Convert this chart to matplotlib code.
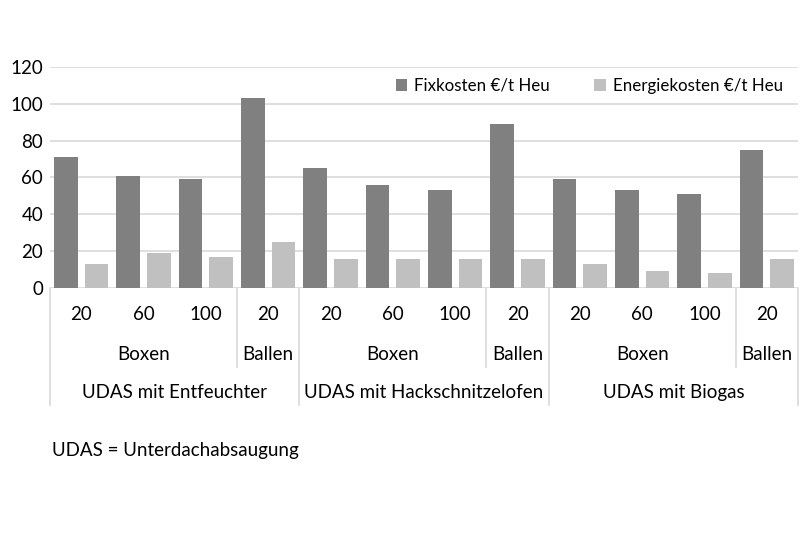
import numpy as np
import matplotlib
matplotlib.use("Agg")
import matplotlib.pyplot as plt
import matplotlib.transforms as mtransforms

plt.rcParams['font.family'] = ['Lato', 'DejaVu Sans']

# data
sizes = ["20", "60", "100", "20", "20", "60", "100", "20", "20", "60", "100", "20"]
types = ["Boxen", "Ballen", "Boxen", "Ballen", "Boxen", "Ballen"]
type_spans = [(0, 2), (3, 3), (4, 6), (7, 7), (8, 10), (11, 11)]
systems = ["UDAS mit Entfeuchter", "UDAS mit Hackschnitzelofen", "UDAS mit Biogas"]
system_spans = [(0, 3), (4, 7), (8, 11)]
fixkosten = [71, 61, 59, 103, 65, 56, 53, 89, 59, 53, 51, 75]
energiekosten = [13, 19, 17, 25, 16, 16, 16, 16, 13, 9, 8, 16]
yticks = [0, 20, 40, 60, 80, 100, 120]

dark = "#808080"
light = "#c0c0c0"
grid = "#d9d9d9"
fs = 13.5

fig = plt.figure(figsize=(8, 5.33), dpi=100)
ax = fig.add_axes([0.0625, 0.4597, 0.935, 0.4146])

x = np.arange(len(sizes))
w = 0.38
ax.bar(x - 0.245, fixkosten, w, color=dark, label="Fixkosten €/t Heu", zorder=3)
ax.bar(x + 0.245, energiekosten, w, color=light, label="Energiekosten €/t Heu", zorder=3)

ax.set_xlim(-0.5, len(sizes) - 0.5)
ax.set_ylim(0, 120)
ax.set_yticks(yticks)
ax.set_yticklabels([str(t) for t in yticks], fontsize=fs)
ax.set_xticks([])
ax.tick_params(axis='y', length=0, pad=5)
ax.grid(axis='y', color=grid, linewidth=1.2, zorder=0)
for s in ax.spines.values():
    s.set_visible(False)

# multi level category axis
trans = mtransforms.blended_transform_factory(ax.transData, ax.transAxes)
for i, lab in enumerate(sizes):
    ax.text(i, -0.118, lab, transform=trans, ha='center', va='center', fontsize=fs)
for lab, (a, b) in zip(types, type_spans):
    ax.text((a + b) / 2, -0.299, lab, transform=trans, ha='center', va='center', fontsize=fs)
for lab, (a, b) in zip(systems, system_spans):
    ax.text((a + b) / 2, -0.475, lab, transform=trans, ha='center', va='center', fontsize=fs)

for xb in [-0.5, 3.5, 7.5, 11.5]:
    ax.plot([xb, xb], [0, -0.53], transform=trans, color=grid, lw=1.2, clip_on=False)
for xb in [2.5, 6.5, 10.5]:
    ax.plot([xb, xb], [0, -0.357], transform=trans, color=grid, lw=1.2, clip_on=False)

leg = ax.legend(loc='upper right', bbox_to_anchor=(1.0, 1.02), ncol=2, frameon=False,
                fontsize=12.2, handlelength=0.7, handleheight=0.7, handletextpad=0.4,
                columnspacing=2.6)

fig.text(0.065, 0.155, "UDAS = Unterdachabsaugung", fontsize=fs, va='center', ha='left')

fig.savefig("out.png", dpi=100)
plt.close(fig)
